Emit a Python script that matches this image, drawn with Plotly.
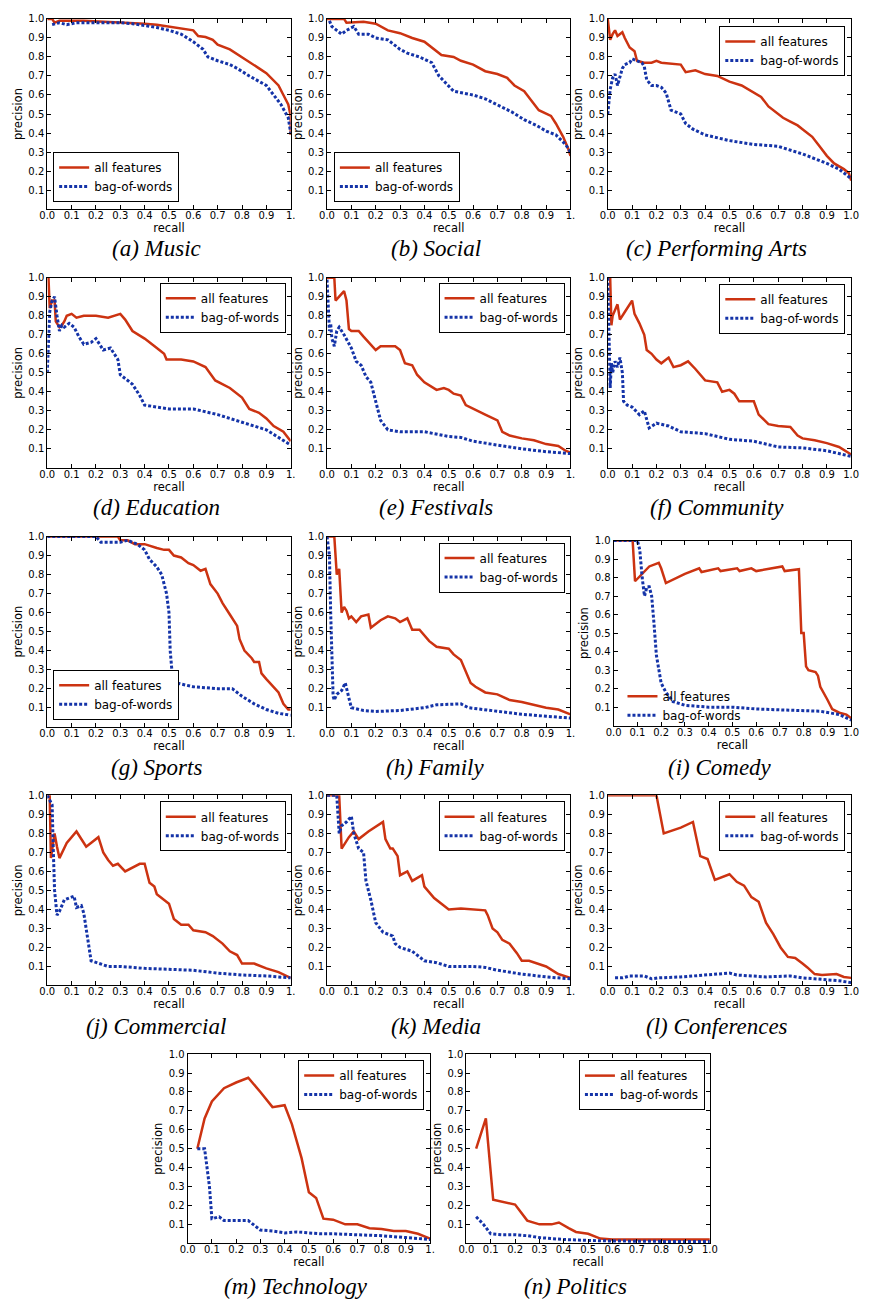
import plotly.graph_objects as go

W, H = 869, 1303
RED = "#cc3311"
BLUE = "#1433a8"
TICK_FONT = dict(family="DejaVu Sans", size=10, color="black")
TITLE_FONT = dict(family="DejaVu Sans", size=11.5, color="black")
LEGEND_FONT = dict(family="DejaVu Sans", size=12, color="black")
CAPTION_FONT = dict(family="Liberation Serif", size=23, color="black")

SERIES_NAMES = ["all features", "bag-of-words"]
RECALL_TICKS = [0.0, 0.1, 0.2, 0.3, 0.4, 0.5, 0.6, 0.7, 0.8, 0.9, 1.0]
PRECISION_TICKS = [0.1, 0.2, 0.3, 0.4, 0.5, 0.6, 0.7, 0.8, 0.9, 1.0]
PRECISION_LABELS = ["0.1", "0.2", "0.3", "0.4", "0.5", "0.6", "0.7", "0.8", "0.9", "1.0"]
RECALL_LABELS_FULL = ["0.0", "0.1", "0.2", "0.3", "0.4", "0.5", "0.6", "0.7", "0.8", "0.9", "1.0"]
RECALL_LABELS_CUT = ["0.0", "0.1", "0.2", "0.3", "0.4", "0.5", "0.6", "0.7", "0.8", "0.9", "1."]

# ---- precision/recall curves: (recall, precision) points ----
music_all = [(0.0, 1.0), (0.02, 1.0), (0.03, 0.98), (0.05, 0.99), (0.15, 0.99), (0.25, 0.985), (0.3, 0.98),
             (0.4, 0.975), (0.45, 0.97), (0.5, 0.96), (0.55, 0.95), (0.6, 0.94), (0.62, 0.91), (0.65, 0.905),
             (0.68, 0.89), (0.7, 0.865), (0.75, 0.84), (0.8, 0.8), (0.83, 0.775), (0.87, 0.74), (0.9, 0.715),
             (0.92, 0.69), (0.95, 0.65), (0.97, 0.6), (0.99, 0.55), (1.0, 0.49), (1.0, 0.39)]
music_bow = [(0.02, 0.97), (0.05, 0.98), (0.08, 0.97), (0.12, 0.98), (0.2, 0.98), (0.3, 0.98), (0.35, 0.975),
             (0.4, 0.965), (0.45, 0.955), (0.5, 0.94), (0.55, 0.92), (0.6, 0.88), (0.64, 0.84), (0.66, 0.8),
             (0.7, 0.78), (0.75, 0.76), (0.78, 0.74), (0.83, 0.7), (0.87, 0.67), (0.9, 0.65), (0.93, 0.6),
             (0.96, 0.55), (0.99, 0.48), (1.0, 0.4)]

social_all = [(0.0, 1.0), (0.07, 1.0), (0.08, 0.98), (0.15, 0.985), (0.2, 0.975), (0.25, 0.94), (0.3, 0.925),
              (0.35, 0.9), (0.4, 0.88), (0.43, 0.85), (0.47, 0.81), (0.52, 0.8), (0.55, 0.78), (0.6, 0.76),
              (0.65, 0.725), (0.7, 0.71), (0.74, 0.69), (0.77, 0.65), (0.81, 0.62), (0.84, 0.57), (0.87, 0.52),
              (0.92, 0.49), (0.94, 0.45), (0.97, 0.38), (0.99, 0.32), (1.0, 0.28)]
social_bow = [(0.01, 0.99), (0.02, 0.96), (0.04, 0.94), (0.06, 0.92), (0.08, 0.94), (0.11, 0.96), (0.13, 0.92),
              (0.17, 0.92), (0.2, 0.9), (0.25, 0.89), (0.3, 0.84), (0.33, 0.82), (0.38, 0.8), (0.43, 0.77),
              (0.46, 0.7), (0.49, 0.66), (0.52, 0.62), (0.56, 0.61), (0.6, 0.6), (0.65, 0.58), (0.7, 0.55),
              (0.76, 0.51), (0.81, 0.47), (0.86, 0.44), (0.9, 0.41), (0.94, 0.39), (0.98, 0.34), (1.0, 0.3)]

arts_all = [(0.0, 1.0), (0.01, 0.89), (0.02, 0.92), (0.03, 0.94), (0.04, 0.91), (0.06, 0.93), (0.07, 0.9),
            (0.09, 0.85), (0.11, 0.83), (0.12, 0.78), (0.15, 0.77), (0.18, 0.77), (0.2, 0.78), (0.22, 0.77),
            (0.3, 0.76), (0.32, 0.72), (0.36, 0.73), (0.4, 0.71), (0.45, 0.7), (0.5, 0.67), (0.55, 0.65),
            (0.6, 0.61), (0.63, 0.59), (0.66, 0.54), (0.7, 0.5), (0.72, 0.48), (0.75, 0.46), (0.78, 0.44),
            (0.8, 0.42), (0.84, 0.38), (0.87, 0.33), (0.9, 0.28), (0.93, 0.24), (0.97, 0.21), (0.99, 0.19),
            (1.0, 0.15)]
arts_bow = [(0.0, 0.5), (0.01, 0.63), (0.02, 0.69), (0.03, 0.71), (0.04, 0.65), (0.05, 0.7), (0.06, 0.74),
            (0.07, 0.76), (0.09, 0.77), (0.1, 0.79), (0.12, 0.78), (0.14, 0.77), (0.15, 0.75), (0.16, 0.68),
            (0.18, 0.65), (0.2, 0.65), (0.22, 0.64), (0.24, 0.61), (0.26, 0.52), (0.28, 0.51), (0.3, 0.5),
            (0.32, 0.45), (0.35, 0.42), (0.4, 0.39), (0.5, 0.36), (0.6, 0.34), (0.7, 0.33), (0.8, 0.29),
            (0.9, 0.24), (0.95, 0.21), (1.0, 0.16)]

education_all = [(0.0, 1.0), (0.005, 1.0), (0.01, 0.84), (0.02, 0.88), (0.03, 0.88), (0.035, 0.77), (0.04, 0.76),
                 (0.05, 0.74), (0.06, 0.75), (0.07, 0.77), (0.08, 0.8), (0.1, 0.81), (0.12, 0.79), (0.15, 0.8),
                 (0.2, 0.8), (0.25, 0.79), (0.3, 0.81), (0.32, 0.78), (0.35, 0.72), (0.4, 0.68), (0.45, 0.63),
                 (0.48, 0.6), (0.49, 0.57), (0.55, 0.57), (0.6, 0.56), (0.65, 0.53), (0.69, 0.46), (0.75, 0.42),
                 (0.8, 0.37), (0.83, 0.31), (0.87, 0.29), (0.9, 0.26), (0.93, 0.22), (0.97, 0.19), (1.0, 0.14)]
education_bow = [(0.0, 0.5), (0.01, 0.82), (0.02, 0.88), (0.03, 0.9), (0.04, 0.8), (0.05, 0.72), (0.06, 0.75),
                 (0.07, 0.74), (0.09, 0.76), (0.11, 0.74), (0.13, 0.69), (0.15, 0.65), (0.18, 0.66), (0.2, 0.68),
                 (0.23, 0.62), (0.26, 0.63), (0.29, 0.57), (0.3, 0.49), (0.32, 0.47), (0.35, 0.44), (0.38, 0.38),
                 (0.4, 0.33), (0.45, 0.32), (0.5, 0.31), (0.6, 0.31), (0.7, 0.28), (0.8, 0.24), (0.9, 0.2),
                 (1.0, 0.12)]

festivals_all = [(0.0, 1.0), (0.03, 1.0), (0.035, 0.88), (0.05, 0.9), (0.07, 0.93), (0.08, 0.88), (0.09, 0.73),
                 (0.1, 0.72), (0.13, 0.72), (0.15, 0.69), (0.17, 0.66), (0.2, 0.62), (0.22, 0.64), (0.25, 0.64),
                 (0.28, 0.64), (0.3, 0.62), (0.32, 0.55), (0.35, 0.54), (0.37, 0.49), (0.4, 0.45), (0.45, 0.41),
                 (0.48, 0.42), (0.5, 0.41), (0.52, 0.39), (0.55, 0.38), (0.57, 0.33), (0.6, 0.31), (0.65, 0.28),
                 (0.7, 0.25), (0.72, 0.19), (0.75, 0.17), (0.8, 0.155), (0.85, 0.145), (0.9, 0.125),
                 (0.95, 0.115), (0.98, 0.09), (1.0, 0.08)]
festivals_bow = [(0.0, 0.99), (0.005, 0.85), (0.01, 0.72), (0.015, 0.76), (0.02, 0.68), (0.03, 0.64), (0.04, 0.72),
                 (0.05, 0.74), (0.07, 0.7), (0.1, 0.63), (0.12, 0.56), (0.14, 0.54), (0.16, 0.48), (0.18, 0.45),
                 (0.2, 0.35), (0.22, 0.25), (0.25, 0.2), (0.3, 0.19), (0.4, 0.19), (0.5, 0.165), (0.55, 0.16),
                 (0.6, 0.14), (0.7, 0.12), (0.8, 0.1), (0.9, 0.085), (1.0, 0.075)]

community_all = [(0.0, 1.0), (0.01, 1.0), (0.015, 0.75), (0.02, 0.8), (0.04, 0.86), (0.05, 0.78), (0.07, 0.82),
                 (0.1, 0.88), (0.11, 0.81), (0.13, 0.76), (0.15, 0.7), (0.16, 0.62), (0.18, 0.6), (0.2, 0.57),
                 (0.22, 0.55), (0.25, 0.58), (0.27, 0.53), (0.3, 0.54), (0.33, 0.56), (0.36, 0.52), (0.4, 0.46),
                 (0.45, 0.45), (0.47, 0.4), (0.5, 0.41), (0.52, 0.39), (0.54, 0.35), (0.6, 0.35), (0.62, 0.28),
                 (0.66, 0.23), (0.7, 0.22), (0.75, 0.215), (0.78, 0.17), (0.8, 0.155), (0.85, 0.145), (0.9, 0.13),
                 (0.95, 0.11), (1.0, 0.07)]
community_bow = [(0.0, 1.0), (0.005, 0.75), (0.01, 0.42), (0.015, 0.55), (0.02, 0.5), (0.03, 0.56), (0.04, 0.53),
                 (0.05, 0.58), (0.06, 0.5), (0.065, 0.35), (0.08, 0.33), (0.1, 0.32), (0.13, 0.28), (0.15, 0.3),
                 (0.17, 0.21), (0.2, 0.235), (0.25, 0.22), (0.3, 0.19), (0.4, 0.18), (0.5, 0.15), (0.6, 0.14),
                 (0.7, 0.11), (0.8, 0.105), (0.9, 0.09), (1.0, 0.06)]

sports_all = [(0.0, 1.0), (0.29, 1.0), (0.3, 0.98), (0.33, 0.98), (0.36, 0.96), (0.4, 0.96), (0.45, 0.94),
              (0.48, 0.93), (0.5, 0.93), (0.52, 0.9), (0.55, 0.89), (0.58, 0.86), (0.6, 0.85), (0.63, 0.82),
              (0.65, 0.83), (0.67, 0.75), (0.7, 0.7), (0.72, 0.65), (0.75, 0.59), (0.78, 0.53), (0.79, 0.46),
              (0.81, 0.4), (0.84, 0.36), (0.85, 0.34), (0.87, 0.34), (0.88, 0.28), (0.9, 0.25), (0.92, 0.22),
              (0.95, 0.18), (0.97, 0.12), (0.99, 0.09), (1.0, 0.09)]
sports_bow = [(0.0, 1.0), (0.2, 1.0), (0.22, 0.97), (0.3, 0.97), (0.33, 0.98), (0.37, 0.96), (0.4, 0.93),
              (0.42, 0.88), (0.45, 0.84), (0.47, 0.8), (0.49, 0.7), (0.5, 0.6), (0.505, 0.4), (0.515, 0.25),
              (0.53, 0.23), (0.6, 0.21), (0.7, 0.2), (0.76, 0.2), (0.8, 0.16), (0.85, 0.12), (0.9, 0.09),
              (0.95, 0.07), (1.0, 0.06)]

family_all = [(0.0, 1.0), (0.03, 1.0), (0.04, 0.8), (0.05, 0.83), (0.06, 0.6), (0.07, 0.63), (0.08, 0.61),
              (0.09, 0.57), (0.1, 0.58), (0.12, 0.55), (0.14, 0.58), (0.17, 0.59), (0.18, 0.52), (0.2, 0.54),
              (0.22, 0.56), (0.25, 0.58), (0.28, 0.57), (0.3, 0.55), (0.33, 0.57), (0.35, 0.51), (0.38, 0.51),
              (0.42, 0.45), (0.45, 0.42), (0.5, 0.41), (0.52, 0.38), (0.55, 0.35), (0.57, 0.29), (0.59, 0.23),
              (0.61, 0.21), (0.65, 0.18), (0.7, 0.17), (0.75, 0.14), (0.8, 0.13), (0.85, 0.115), (0.9, 0.1),
              (0.95, 0.09), (1.0, 0.065)]
family_bow = [(0.0, 1.0), (0.01, 0.9), (0.015, 0.6), (0.02, 0.3), (0.025, 0.16), (0.03, 0.14), (0.04, 0.17),
              (0.06, 0.19), (0.075, 0.23), (0.09, 0.15), (0.1, 0.1), (0.15, 0.085), (0.2, 0.08), (0.3, 0.085),
              (0.4, 0.1), (0.45, 0.115), (0.55, 0.12), (0.58, 0.1), (0.65, 0.09), (0.7, 0.08), (0.8, 0.065),
              (0.9, 0.055), (1.0, 0.045)]

comedy_all = [(0.0, 1.0), (0.08, 1.0), (0.09, 0.78), (0.15, 0.86), (0.19, 0.88), (0.2, 0.85), (0.22, 0.77),
              (0.3, 0.82), (0.36, 0.85), (0.37, 0.83), (0.44, 0.85), (0.45, 0.835), (0.52, 0.85), (0.53, 0.835),
              (0.58, 0.85), (0.6, 0.835), (0.71, 0.86), (0.72, 0.835), (0.78, 0.845), (0.79, 0.5), (0.8, 0.5),
              (0.81, 0.32), (0.82, 0.3), (0.85, 0.29), (0.86, 0.27), (0.87, 0.21), (0.9, 0.14), (0.92, 0.09),
              (0.95, 0.07), (0.98, 0.06), (1.0, 0.04)]
comedy_bow = [(0.0, 1.0), (0.1, 1.0), (0.11, 0.95), (0.12, 0.8), (0.13, 0.7), (0.14, 0.75), (0.15, 0.75),
              (0.16, 0.7), (0.17, 0.55), (0.18, 0.38), (0.2, 0.23), (0.22, 0.18), (0.25, 0.13), (0.3, 0.11),
              (0.4, 0.1), (0.5, 0.1), (0.6, 0.09), (0.7, 0.085), (0.8, 0.08), (0.87, 0.078), (0.95, 0.06),
              (1.0, 0.03)]

commercial_all = [(0.0, 1.0), (0.01, 1.0), (0.015, 0.67), (0.02, 0.72), (0.03, 0.8), (0.04, 0.73), (0.05, 0.67),
                  (0.08, 0.75), (0.12, 0.81), (0.16, 0.73), (0.21, 0.78), (0.23, 0.7), (0.25, 0.66), (0.27, 0.63),
                  (0.29, 0.64), (0.32, 0.6), (0.38, 0.64), (0.4, 0.64), (0.42, 0.54), (0.44, 0.52), (0.45, 0.48),
                  (0.5, 0.43), (0.52, 0.35), (0.55, 0.32), (0.58, 0.32), (0.6, 0.29), (0.65, 0.28), (0.68, 0.26),
                  (0.72, 0.22), (0.75, 0.18), (0.78, 0.16), (0.8, 0.115), (0.85, 0.115), (0.9, 0.09),
                  (0.95, 0.07), (1.0, 0.04)]
commercial_bow = [(0.0, 1.0), (0.02, 0.95), (0.025, 0.7), (0.03, 0.5), (0.04, 0.37), (0.05, 0.39), (0.07, 0.45),
                  (0.09, 0.46), (0.11, 0.47), (0.12, 0.41), (0.14, 0.42), (0.15, 0.38), (0.17, 0.2), (0.18, 0.13),
                  (0.25, 0.1), (0.3, 0.1), (0.4, 0.09), (0.5, 0.085), (0.6, 0.08), (0.7, 0.065), (0.8, 0.055),
                  (0.9, 0.05), (1.0, 0.04)]

media_all = [(0.0, 1.0), (0.05, 1.0), (0.06, 0.72), (0.09, 0.78), (0.11, 0.81), (0.13, 0.77), (0.17, 0.81),
             (0.23, 0.86), (0.24, 0.77), (0.26, 0.72), (0.27, 0.72), (0.29, 0.68), (0.3, 0.58), (0.33, 0.6),
             (0.35, 0.55), (0.39, 0.58), (0.4, 0.52), (0.42, 0.49), (0.44, 0.46), (0.47, 0.43), (0.5, 0.4),
             (0.55, 0.405), (0.6, 0.4), (0.65, 0.395), (0.66, 0.37), (0.68, 0.3), (0.7, 0.28), (0.72, 0.24),
             (0.75, 0.22), (0.78, 0.17), (0.8, 0.13), (0.83, 0.13), (0.9, 0.1), (0.95, 0.06), (1.0, 0.04)]
media_bow = [(0.0, 1.0), (0.04, 1.0), (0.05, 0.8), (0.06, 0.84), (0.08, 0.86), (0.1, 0.89), (0.11, 0.8),
             (0.13, 0.72), (0.15, 0.7), (0.16, 0.55), (0.18, 0.45), (0.2, 0.33), (0.23, 0.28), (0.27, 0.26),
             (0.28, 0.22), (0.3, 0.2), (0.35, 0.18), (0.4, 0.13), (0.45, 0.12), (0.5, 0.1), (0.6, 0.1),
             (0.65, 0.095), (0.7, 0.08), (0.8, 0.06), (0.9, 0.045), (1.0, 0.035)]

conferences_all = [(0.0, 1.0), (0.2, 1.0), (0.23, 0.8), (0.3, 0.83), (0.35, 0.86), (0.38, 0.68), (0.41, 0.665),
                   (0.44, 0.555), (0.5, 0.585), (0.53, 0.545), (0.56, 0.525), (0.59, 0.465), (0.62, 0.44),
                   (0.65, 0.33), (0.68, 0.27), (0.71, 0.2), (0.74, 0.15), (0.77, 0.145), (0.8, 0.115),
                   (0.82, 0.095), (0.85, 0.06), (0.88, 0.055), (0.94, 0.06), (0.97, 0.045), (1.0, 0.04)]
conferences_bow = [(0.03, 0.04), (0.06, 0.04), (0.09, 0.05), (0.12, 0.05), (0.15, 0.05), (0.18, 0.035),
                   (0.21, 0.04), (0.3, 0.045), (0.4, 0.055), (0.5, 0.065), (0.53, 0.055), (0.6, 0.05),
                   (0.65, 0.045), (0.75, 0.05), (0.8, 0.04), (0.85, 0.035), (0.9, 0.03), (0.95, 0.025),
                   (1.0, 0.015)]

technology_all = [(0.04, 0.5), (0.07, 0.66), (0.1, 0.75), (0.15, 0.82), (0.2, 0.85), (0.25, 0.875), (0.3, 0.8),
                  (0.35, 0.72), (0.4, 0.73), (0.43, 0.63), (0.47, 0.45), (0.5, 0.27), (0.53, 0.24), (0.56, 0.13),
                  (0.6, 0.125), (0.65, 0.1), (0.7, 0.1), (0.75, 0.08), (0.8, 0.075), (0.85, 0.065), (0.9, 0.065),
                  (0.95, 0.05), (1.0, 0.025)]
technology_bow = [(0.04, 0.5), (0.07, 0.5), (0.09, 0.3), (0.1, 0.13), (0.13, 0.14), (0.15, 0.12), (0.2, 0.12),
                  (0.25, 0.12), (0.3, 0.07), (0.35, 0.065), (0.4, 0.055), (0.45, 0.06), (0.5, 0.055), (0.55, 0.05),
                  (0.6, 0.05), (0.7, 0.045), (0.8, 0.04), (0.9, 0.03), (1.0, 0.02)]

politics_all = [(0.04, 0.5), (0.08, 0.66), (0.11, 0.23), (0.15, 0.22), (0.2, 0.205), (0.25, 0.12), (0.3, 0.1),
                (0.35, 0.1), (0.38, 0.11), (0.42, 0.08), (0.45, 0.06), (0.5, 0.05), (0.55, 0.025), (0.6, 0.02),
                (0.7, 0.02), (0.8, 0.02), (0.9, 0.02), (1.0, 0.02)]
politics_bow = [(0.04, 0.14), (0.07, 0.1), (0.1, 0.05), (0.15, 0.045), (0.2, 0.045), (0.25, 0.04), (0.3, 0.03),
                (0.4, 0.02), (0.5, 0.015), (0.6, 0.012), (0.8, 0.01), (1.0, 0.01)]

# ---- panel layout ----
# caption, curves, plot box (left, right, top, bottom) in px, caption centre y,
# legend spec, whether the last recall label reads "1.0"
panels = [
    ("(a) Music", music_all, music_bow, (40, 288, 13, 204), 244, ("bl", 46, 197), False),
    ("(b) Social", social_all, social_bow, (325, 573, 13, 204), 244, ("bl", 332, 197), False),
    ("(c) Performing Arts", arts_all, arts_bow, (611, 859, 13, 204), 244, ("tr", 853, 20), True),
    ("(d) Education", education_all, education_bow, (40, 288, 273, 464), 504, ("tr", 283, 278), False),
    ("(e) Festivals", festivals_all, festivals_bow, (325, 573, 273, 464), 504, ("tr", 567, 278), False),
    ("(f) Community", community_all, community_bow, (611, 859, 273, 464), 504, ("tr", 853, 279), True),
    ("(g) Sports", sports_all, sports_bow, (40, 288, 533, 724), 765, ("bl", 46, 717), False),
    ("(h) Family", family_all, family_bow, (325, 573, 533, 724), 765, ("tr", 567, 539), False),
    ("(i) Comedy", comedy_all, comedy_bow, (617, 859, 537, 723), 765, ("nf", 626, 679), True),
    ("(j) Commercial", commercial_all, commercial_bow, (40, 288, 793, 984), 1025, ("tr", 283, 799), False),
    ("(k) Media", media_all, media_bow, (325, 573, 793, 984), 1025, ("tr", 567, 799), False),
    ("(l) Conferences", conferences_all, conferences_bow, (611, 859, 793, 984), 1025, ("tr", 853, 799), True),
    ("(m) Technology", technology_all, technology_bow, (183, 430, 1053, 1243), 1286, ("tr", 424, 1059), False),
    ("(n) Politics", politics_all, politics_bow, (467, 715, 1053, 1243), 1286, ("tr", 710, 1059), True),
]

fig = go.Figure()
layout = dict(
    width=W, height=H, margin=dict(l=0, r=0, t=0, b=0),
    paper_bgcolor="white", plot_bgcolor="white", showlegend=True,
    annotations=[],
)

axis_common = dict(
    range=[0, 1], showline=True, linecolor="black", linewidth=1, mirror="ticks",
    ticks="inside", ticklen=4, tickwidth=1, tickcolor="black", showgrid=False,
    zeroline=False, tickfont=TICK_FONT, fixedrange=True,
)

for i, (caption, all_pts, bow_pts, box, cap_y, leg, full_one) in enumerate(panels):
    n = i + 1
    sfx = "" if n == 1 else str(n)
    left, right, top, bottom = box
    xdom = [left / W, right / W]
    ydom = [1 - bottom / H, 1 - top / H]

    layout["xaxis" + sfx] = dict(
        axis_common, domain=xdom, anchor="y" + sfx,
        tickvals=RECALL_TICKS,
        ticktext=RECALL_LABELS_FULL if full_one else RECALL_LABELS_CUT,
        ticklabelstandoff=-3,
        title=dict(text="recall", font=TITLE_FONT, standoff=0),
    )
    layout["yaxis" + sfx] = dict(
        axis_common, domain=ydom, anchor="x" + sfx,
        tickvals=PRECISION_TICKS, ticktext=PRECISION_LABELS,
        title=dict(text="precision", font=TITLE_FONT, standoff=3),
    )

    legend_id = "legend" + sfx
    kind, lx, ly = leg
    leg_cfg = dict(font=LEGEND_FONT, itemwidth=30, tracegroupgap=0,
                   xref="paper", yref="paper", x=lx / W, y=1 - ly / H,
                   bgcolor="white", bordercolor="black", borderwidth=1)
    if kind == "bl":
        leg_cfg.update(xanchor="left", yanchor="bottom")
    elif kind == "tr":
        leg_cfg.update(xanchor="right", yanchor="top")
    else:
        leg_cfg.update(xanchor="left", yanchor="top", bgcolor="rgba(0,0,0,0)", borderwidth=0)
    layout[legend_id] = leg_cfg

    for pts, name, color, dash, width in (
        (all_pts, SERIES_NAMES[0], RED, "solid", 2.5),
        (bow_pts, SERIES_NAMES[1], BLUE, "3px,2px", 3),
    ):
        fig.add_trace(go.Scatter(
            x=[p[0] for p in pts], y=[p[1] for p in pts],
            mode="lines", name=name, legend=legend_id,
            line=dict(color=color, width=width, dash=dash),
            xaxis="x" + sfx, yaxis="y" + sfx, hoverinfo="skip",
        ))

    layout["annotations"].append(dict(
        text="<i>" + caption + "</i>", xref="paper", yref="paper",
        x=((left + right) / 2 - 13) / W, y=1 - cap_y / H,
        xanchor="center", yanchor="middle", showarrow=False, font=CAPTION_FONT,
    ))

fig.update_layout(**layout)
fig.write_html("out.html")
